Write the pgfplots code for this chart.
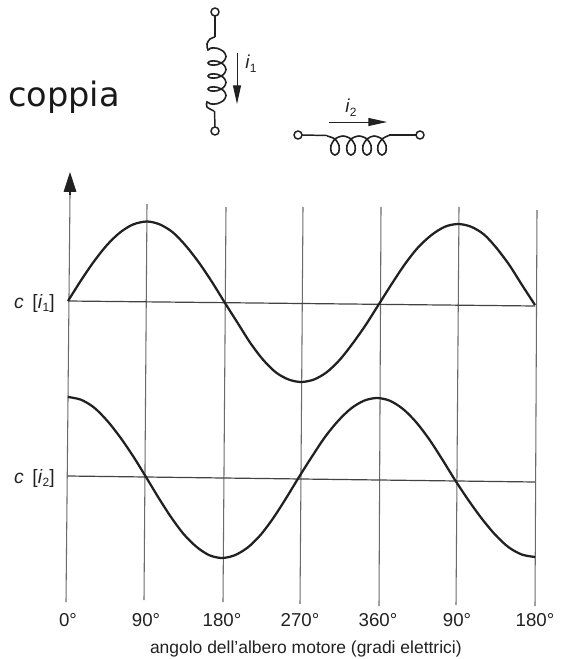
\documentclass[border=0pt]{standalone}
\usepackage{fontspec}
\setmainfont{Liberation Sans}
\newfontfamily\dejavu{DejaVu Sans}
\usepackage{pgfplots}
\pgfplotsset{compat=1.18}
\usetikzlibrary{arrows.meta}
\definecolor{ink}{gray}{0.13}
\definecolor{gridc}{gray}{0.42}
\begin{document}
\begin{tikzpicture}
\begin{axis}[
  scale only axis, width=420.75pt, height=453.75pt,
  xmin=0, xmax=561, ymin=0, ymax=605, y dir=reverse,
  clip=false,
  axis line style={draw=none},
  major tick length=0pt,
  xtick pos=bottom, ytick pos=left,
  xtick={68,146,222,300,378,457,535},
  xticklabels={0°,90°,180°,270°,360°,90°,180°},
  xticklabel style={font=\fontsize{14}{16}\selectfont, text=ink, yshift=-3pt},
  ytick={303,478},
  yticklabels={{\textit{c} \,[\textit{i}\raisebox{-2.5pt}{\small 1}]},{\textit{c} \,[\textit{i}\raisebox{-2.5pt}{\small 2}]}},
  yticklabel style={font=\fontsize{14.5}{16}\selectfont, text=ink, xshift=44.5pt},
  xlabel={angolo dell'albero motore (gradi elettrici)},
  xlabel style={font=\fontsize{13.1}{15}\selectfont, text=ink, yshift=-3.5pt, xshift=19pt},
]
% vertical lines
\addplot[gridc, line width=0.8pt] coordinates {(70,195) (66,602)};
\addplot[gridc, line width=0.8pt] coordinates {(147,204) (144,600)};
\addplot[gridc, line width=0.8pt] coordinates {(226,207) (223,602)};
\addplot[gridc, line width=0.8pt] coordinates {(303,207) (300,604)};
\addplot[gridc, line width=0.8pt] coordinates {(381,207) (379,606)};
\addplot[gridc, line width=0.8pt] coordinates {(459,207) (456,605)};
\addplot[gridc, line width=0.8pt] coordinates {(537,210) (535,606)};
% axis arrow
\addplot[ink, line width=0.8pt, -{Triangle[length=15pt,width=9.5pt]}] coordinates {(70,195) (70,172)};
% zero lines
\addplot[ink!85, line width=0.9pt] coordinates {(68,301) (535,306)};
\addplot[ink!85, line width=0.9pt] coordinates {(68,476) (535,482)};
% c[i1]
\addplot[ink, line width=1.7pt, smooth] coordinates {
(68,301)(81,280.4)(94,261.4)(107,245)(120,232.5)(133,224.5)(147,221.5)
(160,224.5)(173,232.5)(186,246)(199,262.7)(212,282)(225,303)
(238,323.5)(250.7,343.5)(263.3,360)(276,372.5)(288.6,379.5)(301,382)
(314,379.5)(327,372)(340,359.5)(353,343)(366,324.5)(379,304)
(392,283.5)(405,264)(418,247.5)(431.5,235)(445,226.7)(458,224)
(471,226.7)(484,234.5)(496.5,248)(509.3,265)(522,285)(535,305)};
% c[i2]
\addplot[ink, line width=1.7pt, smooth] coordinates {
(68,397)(81,399.7)(94,407.5)(107,420.5)(120,437)(133,456)(146,477)
(158.7,498)(171.3,517.5)(184,534.5)(196.7,547)(209.3,555.2)(222,558)
(234.8,555.2)(247.7,547.5)(260.5,535)(273.3,518)(286.2,498)(299,477)
(312,456.5)(325,437)(338,421)(351,408.5)(364,400.7)(377,398)
(390,400.8)(403,409)(416,422)(429,439)(442,459)(455,480)
(468.3,500)(481.7,518.5)(495,534.5)(508.3,547)(521.7,554.5)(535,557)};
% vertical winding
\addplot[ink, line width=1.1pt] coordinates {(215,16) (215,37)};
\addplot[ink, line width=1.2pt, smooth] coordinates {
(215,37)(210,39)(207,44)(208,50)
(210.6,48.1)(217,48.25)(223.4,51.4)(226,56.5)(223.4,61.6)(217,64.75)(210.6,64.9)
(208,63)
(210.6,61.1)(217,61.25)(223.4,64.4)(226,69.5)(223.4,74.6)(217,77.75)(210.6,77.9)
(208,76)
(210.6,74.1)(217,74.25)(223.4,77.4)(226,82.5)(223.4,87.6)(217,90.75)(210.6,90.9)
(208,89)
(210.6,87.1)(217,87.25)(223.4,90.4)(226,95.5)(223.4,100.6)(217,103.75)(210.6,103.9)
(207,102)(207,107)(214,111)};
\addplot[ink, line width=1.1pt] coordinates {(214.5,111) (215,127)};
\addplot[only marks, mark=o, mark size=3pt, mark options={ink, line width=1.1pt}] coordinates {(215,12) (215,131)};
% horizontal winding
\addplot[ink, line width=1.1pt] coordinates {(302,135) (327,135.5)};
\addplot[ink, line width=1.1pt] coordinates {(389,135) (416,135)};
\addplot[ink, line width=1.2pt, smooth] coordinates {
(327,136)(334.7,138.8)(339,145.5)(338.7,152.2)(335,155)(331.3,152.2)(331,145.5)(335.3,138.8)
(343,136)(350.7,138.8)(355,145.5)(354.7,152.2)(351,155)(347.3,152.2)(347,145.5)(351.3,138.8)
(359,136)(366.7,138.8)(371,145.5)(370.7,152.2)(367,155)(363.3,152.2)(363,145.5)(367.3,138.8)
(374,136)(381.7,138.8)(386,145.5)(385.7,152.2)(382,155)(378.3,152.2)(378,145.5)(382.3,138.8)
(390,135)};
\addplot[only marks, mark=o, mark size=3pt, mark options={ink, line width=1.1pt}] coordinates {(298,135) (420,135)};
% current arrows
\addplot[ink, line width=0.7pt, -{Triangle[length=14pt,width=6pt]}] coordinates {(237,53) (237,104)};
\addplot[ink, line width=0.7pt, -{Triangle[length=14pt,width=6pt]}] coordinates {(329,122) (387,122)};
\node[font=\fontsize{14}{15}\selectfont, text=ink] at (axis cs:251,64) {\textit{i}\raisebox{-3pt}{\small 1}};
\node[font=\fontsize{14}{15}\selectfont, text=ink] at (axis cs:351,108) {\textit{i}\raisebox{-3pt}{\small 2}};
\node[font=\dejavu\fontsize{25.2}{28}\selectfont, text=black!90, anchor=base west, inner sep=0pt] at (axis cs:8,107) {coppia};
\end{axis}
\pgfresetboundingbox
\path[use as bounding box] (0,-40.5pt) rectangle (420.75pt,453.75pt);
\end{tikzpicture}
\end{document}
